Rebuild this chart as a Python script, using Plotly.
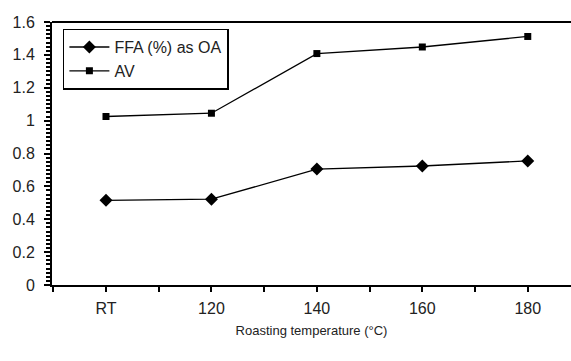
import plotly.graph_objects as go

categories = ["RT", "120", "140", "160", "180"]
ffa = [0.515, 0.522, 0.705, 0.724, 0.755]
av = [1.025, 1.045, 1.408, 1.448, 1.512]
y_ticks = [0, 0.2, 0.4, 0.6, 0.8, 1.0, 1.2, 1.4, 1.6]
y_tick_labels = ["0", "0.2", "0.4", "0.6", "0.8", "1", "1.2", "1.4", "1.6"]

xpos = list(range(len(categories)))
tickvals = []
ticktext = []
for i, c in enumerate(categories):
    tickvals += [i - 0.5, i]
    ticktext += ["", c]
tickvals.append(len(categories) - 0.5)
ticktext.append("")

FONT = "Liberation Sans, Arial"

fig = go.Figure()
fig.add_trace(go.Scatter(
    x=xpos, y=ffa, name="FFA (%) as OA", mode="lines+markers",
    line=dict(color="black", width=1.3),
    marker=dict(symbol="diamond", size=10, color="black"),
))
fig.add_trace(go.Scatter(
    x=xpos, y=av, name="AV", mode="lines+markers",
    line=dict(color="black", width=1.3),
    marker=dict(symbol="square", size=7, color="black"),
))

fig.update_layout(
    width=571, height=361,
    margin=dict(l=52, r=0, t=22, b=76),
    paper_bgcolor="white", plot_bgcolor="white",
    font=dict(family=FONT, size=16, color="#222"),
    showlegend=True,
    legend=dict(
        x=0.021, y=0.975, xanchor="left", yanchor="top",
        bgcolor="white", bordercolor="black", borderwidth=1.5,
        font=dict(family=FONT, size=16, color="#222"),
        tracegroupgap=0, itemwidth=40,
    ),
    xaxis=dict(
        range=[-0.512, 4.41], showgrid=False, zeroline=False,
        tickmode="array", tickvals=tickvals, ticktext=ticktext,
        ticks="outside", ticklen=5, tickwidth=2, tickcolor="black",
        showline=True, linecolor="black", linewidth=2, mirror=False,
        tickfont=dict(family=FONT, size=16, color="#222"),
        ticklabelstandoff=3,
        title=dict(text="Roasting temperature (°C)",
                   font=dict(family=FONT, size=13, color="#222"),
                   standoff=10),
    ),
    yaxis=dict(
        range=[0, 1.6], showgrid=False, zeroline=False,
        tickmode="array", tickvals=y_ticks, ticktext=y_tick_labels,
        ticks="outside", ticklen=6, tickwidth=2, tickcolor="black",
        showline=True, linecolor="black", linewidth=2,
        tickfont=dict(family=FONT, size=16, color="#222"),
        ticklabelstandoff=6,
        minor=dict(dtick=0.025, ticks="outside", ticklen=4, tickwidth=1.5, tickcolor="black"),
    ),
)
fig.add_shape(type="line", xref="paper", yref="paper", x0=0, x1=1, y0=1, y1=1,
              line=dict(color="black", width=2))

fig.write_html("out.html")
